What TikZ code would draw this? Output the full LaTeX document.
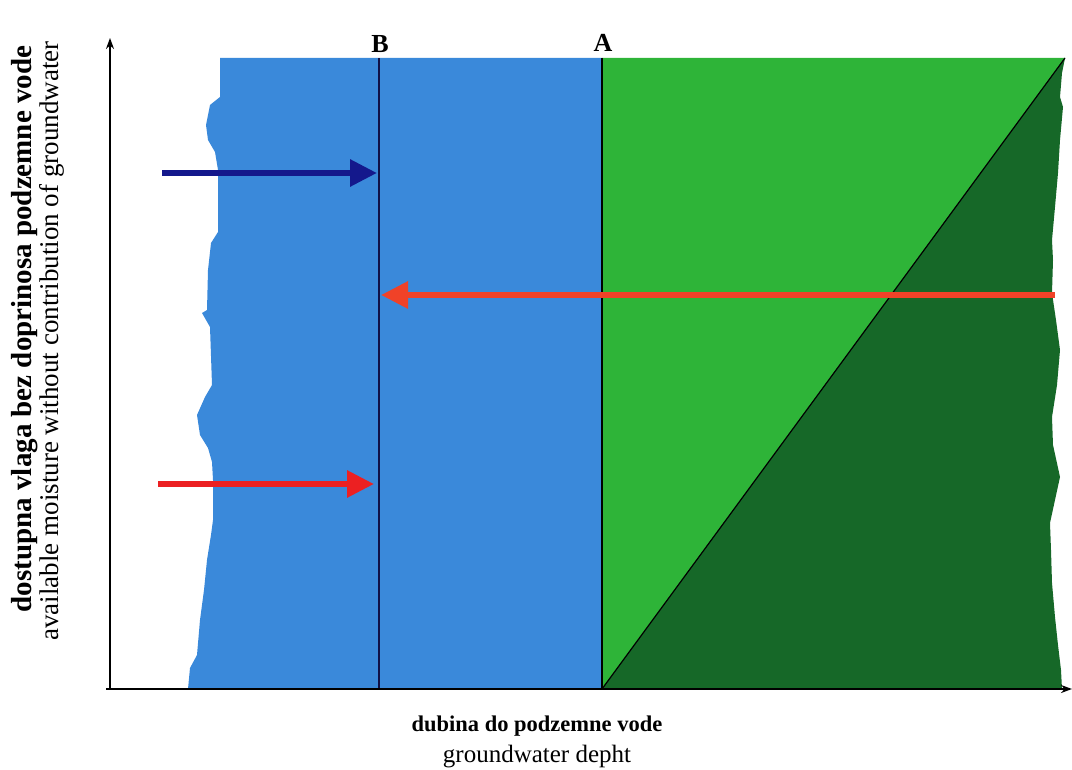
\documentclass[tikz,border=0pt]{standalone}
\usepackage{fontspec}
\setmainfont{Liberation Serif}
\usetikzlibrary{arrows.meta}
\definecolor{bluefill}{RGB}{58,137,218}
\definecolor{greenlight}{RGB}{46,180,56}
\definecolor{greendark}{RGB}{22,104,40}
\definecolor{navyarrow}{RGB}{20,24,140}
\definecolor{redarrow}{RGB}{236,32,34}
\definecolor{orangered}{RGB}{240,66,40}
\definecolor{navyline}{RGB}{16,16,70}
\tikzset{
  axisline/.style={line width=2pt,black,-{Stealth[length=11pt,width=8pt]}},
  divline/.style={line width=2.4pt},
  bigarrow/.style={line width=6pt,-{Triangle[length=27pt,width=26pt]}},
  ylabelbold/.style={rotate=90,anchor=base,inner sep=0pt,font=\fontsize{29}{32}\selectfont\bfseries},
  ylabelreg/.style={rotate=90,anchor=base,inner sep=0pt,font=\fontsize{27}{30}\selectfont},
  xlabelbold/.style={anchor=base,inner sep=0pt,font=\fontsize{22.5}{26}\selectfont\bfseries},
  xlabelreg/.style={anchor=base,inner sep=0pt,font=\fontsize{25}{30}\selectfont},
  letterlabel/.style={anchor=base,inner sep=0pt,font=\fontsize{26}{30}\selectfont\bfseries}
}
\begin{document}
\begin{tikzpicture}[x=1pt,y=-1pt]
\useasboundingbox (0,0) rectangle (1072,770);
% blue region
\fill[bluefill] (220,58) -- (220,97) -- (210,105) -- (206,125) -- (208,140) -- (215,152) -- (218,170) -- (218,232) -- (211,243) -- (208,270) -- (207,310) -- (202,313) -- (210,327) -- (212,385) -- (205,397) -- (197,415) -- (200,435) -- (208,448) -- (212,462) -- (213,480) -- (213,520) -- (211,535) -- (207,560) -- (204,590) -- (200,620) -- (197,655) -- (190,668) -- (188,689) -- (602,689) -- (602,58) -- cycle;
% light green triangle
\fill[greenlight] (602,58) -- (1065,58) -- (602,689) -- cycle;
% dark green
\fill[greendark] (602,689) -- (1065,58) -- (1062,73) -- (1060,97) -- (1063,107) -- (1060,140) -- (1058,173) -- (1055,207) -- (1052,240) -- (1053,260) -- (1052,293) -- (1056,320) -- (1060,350) -- (1057,385) -- (1052,417) -- (1053,445) -- (1060,477) -- (1055,500) -- (1050,523) -- (1051,550) -- (1052,583) -- (1055,617) -- (1058,645) -- (1061,670) -- (1062,689) -- cycle;
% named points
\coordinate (o) at (110,689);
\coordinate (ytip) at (110,38);
\coordinate (xstart) at (106,689);
\coordinate (xtip) at (1072,689);
\coordinate (btop) at (379,58);
\coordinate (bbot) at (379,689);
\coordinate (atop) at (602,58);
\coordinate (abot) at (602,689);
\coordinate (diagtop) at (1065,58);
\coordinate (bluestart) at (162,173);
\coordinate (bluetip) at (377,173);
\coordinate (longstart) at (1055,295);
\coordinate (longtip) at (381,295);
\coordinate (redstart) at (158,484);
\coordinate (redtip) at (374,484);
% diagonal
\draw[line width=1.2pt,black] (abot) -- (diagtop);
% divider lines
\draw[divline,navyline] (btop) -- (bbot);
\draw[divline,black] (atop) -- (abot);
% axes
\draw[axisline] (o) -- (ytip);
\draw[axisline] (xstart) -- (xtip);
% arrows
\draw[bigarrow,navyarrow] (bluestart) -- (bluetip);
\draw[bigarrow,orangered] (longstart) -- (longtip);
\draw[bigarrow,redarrow] (redstart) -- (redtip);
% letters
\node[letterlabel] (B) at (380,53) {B};
\node[letterlabel] (A) at (603,52) {A};
% axis labels
\node[ylabelbold] (ylab1) at (31,329) {dostupna vlaga bez doprinosa podzemne vode};
\node[ylabelreg] (ylab2) at (58,341) {available moisture without contribution of groundwater};
\node[xlabelbold] (xlab1) at (537,731) {dubina do podzemne vode};
\node[xlabelreg] (xlab2) at (537,762) {groundwater depht};
\end{tikzpicture}
\end{document}
